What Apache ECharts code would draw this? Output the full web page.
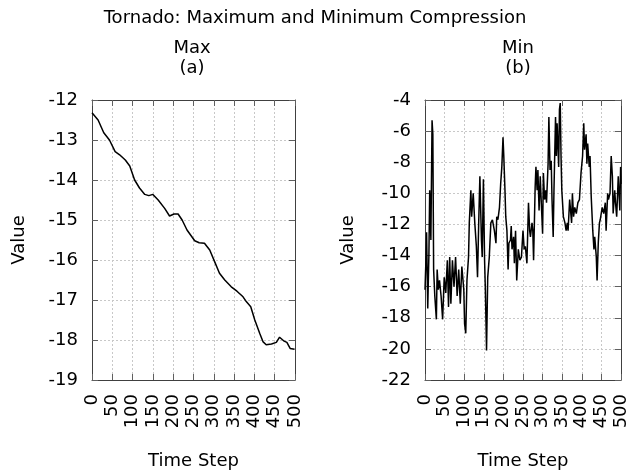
<!DOCTYPE html>
<html>
<head>
<meta charset="utf-8">
<script src="https://cdn.jsdelivr.net/npm/echarts@6/dist/echarts.min.js"></script>
<style>
  html, body { margin: 0; padding: 0; background: #fff; }
  #chart { width: 630px; height: 476px; }
</style>
</head>
<body>
<div id="chart"></div>
<script>
// Max (a)
const maxSteps = [
  0, 15, 29, 43, 57, 68, 82, 93, 105, 117,
  130, 140, 150, 163, 179, 191, 202, 212, 222, 234,
  253, 264, 277, 290, 302, 314, 327, 343, 357, 372,
  380, 391, 401, 413, 421, 429, 442, 454, 462, 472,
  480, 488, 499
];
const maxValues = [
  -12.32, -12.5, -12.82, -13.0, -13.29, -13.37, -13.5, -13.65, -14.0, -14.2,
  -14.36, -14.39, -14.36, -14.5, -14.71, -14.9, -14.85, -14.85, -15.0, -15.25,
  -15.52, -15.57, -15.58, -15.75, -16.04, -16.33, -16.5, -16.67, -16.78, -16.92,
  -17.04, -17.17, -17.5, -17.83, -18.04, -18.12, -18.1, -18.06, -17.93, -18.02,
  -18.06, -18.21, -18.23
];

// Min (b)
const minSteps = [
  0, 2, 4, 7, 10, 12, 15, 18, 20, 22,
  25, 29, 31, 34, 37, 41, 45, 49, 53, 57,
  60, 63, 66, 70, 74, 78, 82, 86, 90, 94,
  99, 101, 104, 107, 111, 113, 117, 119, 123, 127,
  131, 134, 137, 140, 144, 146, 149, 152, 154, 157,
  160, 164, 168, 172, 177, 181, 183, 186, 190, 193,
  196, 199, 201, 204, 206, 209, 212, 214, 218, 220,
  222, 226, 228, 231, 234, 238, 242, 246, 250, 253,
  256, 260, 264, 267, 269, 273, 275, 277, 281, 283,
  286, 288, 291, 294, 296, 300, 302, 305, 308, 310,
  314, 316, 319, 322, 324, 327, 329, 333, 335, 337,
  341, 343, 345, 347, 349, 353, 357, 360, 363, 365,
  369, 374, 376, 379, 382, 386, 390, 394, 398, 402,
  405, 407, 411, 413, 415, 419, 421, 424, 428, 431,
  433, 437, 439, 442, 445, 447, 452, 456, 460, 462,
  466, 468, 472, 475, 478, 480, 484, 486, 489, 493,
  497, 499, 500
];
const minValues = [
  -16.2, -14.6, -12.5, -17.4, -13.9, -9.8, -13.0, -5.3, -6.2, -14.9,
  -16.6, -18.1, -14.9, -16.2, -15.6, -16.6, -18.1, -15.4, -16.4, -14.3,
  -17.3, -14.1, -17.1, -14.3, -16.0, -14.1, -16.6, -14.9, -17.1, -14.7,
  -16.2, -18.4, -19.0, -15.6, -14.1, -11.9, -9.8, -11.5, -10.0, -11.9,
  -13.4, -15.4, -11.9, -8.9, -13.0, -14.1, -9.1, -14.3, -16.2, -20.1,
  -15.4, -14.1, -11.9, -11.7, -12.4, -13.2, -11.5, -11.7, -10.9, -9.4,
  -8.3, -6.4, -7.6, -9.8, -11.5, -12.4, -14.9, -13.2, -13.0, -12.1,
  -13.6, -12.8, -14.5, -12.4, -15.6, -13.6, -14.3, -14.1, -12.4, -13.6,
  -13.4, -14.5, -10.6, -12.4, -12.8, -11.9, -12.4, -14.3, -9.6, -8.3,
  -9.8, -8.5, -11.1, -8.9, -10.2, -12.6, -8.7, -10.4, -9.8, -10.6,
  -8.1, -5.1, -8.5, -7.9, -10.4, -12.8, -9.8, -5.1, -7.6, -5.5,
  -8.3, -4.6, -4.2, -7.6, -9.8, -11.5, -11.9, -12.4, -11.9, -12.4,
  -10.4, -11.9, -10.0, -11.5, -10.9, -11.3, -10.6, -10.4, -8.7, -7.6,
  -5.5, -7.2, -6.2, -8.1, -6.8, -8.3, -7.6, -10.2, -12.4, -13.6,
  -12.8, -14.1, -15.6, -13.2, -11.9, -11.7, -10.9, -11.3, -10.6, -12.4,
  -10.0, -10.4, -10.0, -7.6, -8.9, -11.3, -9.8, -10.6, -11.5, -8.9,
  -11.1, -8.3, -9.4
];

const font = 'DejaVu Sans';
const fontSize = 18;
const borderColor = '#404040';
const tickColor = '#606060';

const zip = (xs, ys) => xs.map((x, i) => [x, ys[i]]);

// 主坐标轴
function mainX(gridIndex) {
  return {
    type: 'value',
    gridIndex,
    min: 0,
    max: 500,
    interval: 50,
    name: 'Time Step',
    nameLocation: 'middle',
    nameGap: 72,
    nameTextStyle: { fontFamily: font, fontSize, color: '#000' },
    axisLine: { lineStyle: { color: borderColor } },
    axisTick: { inside: true, length: 6, lineStyle: { color: tickColor } },
    axisLabel: {
      rotate: 90,
      margin: 14,
      fontFamily: font,
      fontSize,
      color: '#000',
    },
    splitLine: { lineStyle: { color: '#c8c8c8', type: [2, 2] } },
  };
}

function mainY(gridIndex, min, max, interval, nameGap) {
  return {
    type: 'value',
    gridIndex,
    min,
    max,
    interval,
    name: 'Value',
    nameLocation: 'middle',
    nameGap,
    nameTextStyle: { fontFamily: font, fontSize, color: '#000' },
    axisLine: { show: true, lineStyle: { color: borderColor } },
    axisTick: { show: true, inside: true, length: 6, lineStyle: { color: tickColor } },
    axisLabel: { margin: 14, fontFamily: font, fontSize, color: '#000' },
    splitLine: { lineStyle: { color: '#c8c8c8', type: [2, 2] } },
  };
}

// 镜像坐标轴（上、右边框刻度）
function mirror(gridIndex, min, max, interval, position) {
  return {
    type: 'value',
    gridIndex,
    min,
    max,
    interval,
    position,
    axisLine: { show: true, onZero: false, lineStyle: { color: borderColor } },
    axisTick: { show: true, inside: true, length: 6, lineStyle: { color: tickColor } },
    axisLabel: { show: false },
    splitLine: { show: false },
  };
}

const titleStyle = { fontFamily: font, fontSize, fontWeight: 'normal', color: '#000', lineHeight: 20 };

const chart = echarts.init(document.getElementById('chart'));
chart.setOption({
  animation: false,
  backgroundColor: '#fff',
  title: [
    {
      text: 'Tornado: Maximum and Minimum Compression',
      left: 315,
      top: 8,
      padding: 0,
      textAlign: 'center',
      textStyle: titleStyle,
    },
    {
      text: 'Max\n(a)',
      left: 192,
      top: 38,
      padding: 0,
      textAlign: 'center',
      textStyle: titleStyle,
    },
    {
      text: 'Min\n(b)',
      left: 518,
      top: 38,
      padding: 0,
      textAlign: 'center',
      textStyle: titleStyle,
    },
  ],
  grid: [
    { left: 92, top: 100, width: 203, height: 280 },
    { left: 425, top: 100, width: 203, height: 280 },
  ],
  xAxis: [
    mainX(0),
    mirror(0, 0, 500, 50, 'top'),
    mainX(1),
    mirror(1, 0, 500, 50, 'top'),
  ],
  yAxis: [
    mainY(0, -19, -12, 1, 64),
    mirror(0, -19, -12, 1, 'right'),
    mainY(1, -22, -4, 2, 68),
    mirror(1, -22, -4, 2, 'right'),
  ],
  series: [
    {
      type: 'line',
      xAxisIndex: 0,
      yAxisIndex: 0,
      data: zip(maxSteps, maxValues),
      symbol: 'none',
      lineStyle: { color: '#000', width: 1.5 },
    },
    {
      type: 'line',
      xAxisIndex: 2,
      yAxisIndex: 2,
      data: zip(minSteps, minValues),
      symbol: 'none',
      lineStyle: { color: '#000', width: 1.5 },
    },
  ],
});
</script>
</body>
</html>
